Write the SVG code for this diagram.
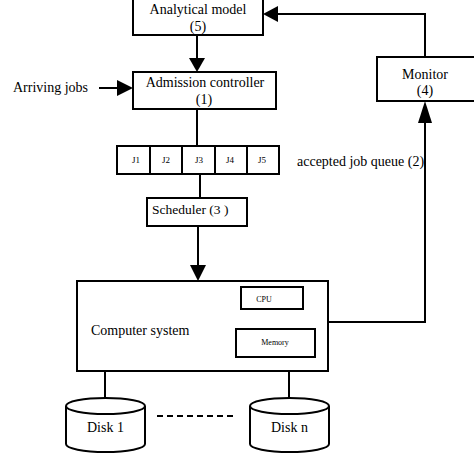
<svg xmlns="http://www.w3.org/2000/svg" width="474" height="453" viewBox="0 0 474 453">
<style>
.box{fill:#fff;stroke:#000;stroke-width:2}
.ln{fill:none;stroke:#000;stroke-width:2}
text{font-family:'Liberation Serif','Times New Roman','DejaVu Serif',serif;fill:#000}
.t{font-size:14px}
.s{font-size:9px}
.c{text-anchor:middle}
</style>
<rect width="474" height="453" fill="#fff"/>
<g id="connectors">
<path class="ln" d="M197,35 V58"/>
<path d="M189,58 L205,58 L197,72 Z"/>
<path class="ln" d="M99,88 H118"/>
<path d="M117,80 L117,96 L133,88 Z"/>
<path class="ln" d="M425,57 V14 H278"/>
<path d="M278,6 L278,22 L263,14 Z"/>
<path class="ln" d="M197,109 V146"/>
<path class="ln" d="M200,174 V198"/>
<path class="ln" d="M198,226 V266"/>
<path d="M190,265 L206,265 L198,281 Z"/>
<path class="ln" d="M328,322 H425 V122"/>
<path d="M418,123 L432,123 L425,101 Z"/>
<path class="ln" d="M105,371 V398"/>
<path class="ln" d="M289,371 V398"/>
<path class="ln" d="M157,416 H236" stroke-dasharray="6,4"/>
</g>
<g id="analytical-model">
<rect class="box" x="133" y="-2" width="130" height="37"/>
<text class="t c" x="198" y="14">Analytical model</text>
<text class="t c" x="198" y="31">(5)</text>
</g>
<g id="arriving-jobs">
<text class="t" x="13" y="92">Arriving jobs</text>
</g>
<g id="admission-controller">
<rect class="box" x="133" y="72" width="143" height="37"/>
<text class="t c" x="205" y="87">Admission controller</text>
<text class="t c" x="204" y="104">(1)</text>
</g>
<g id="monitor">
<rect class="box" x="377" y="57" width="100" height="44"/>
<text class="t c" x="425" y="79">Monitor</text>
<text class="t c" x="425" y="95">(4)</text>
</g>
<g id="queue">
<rect class="box" x="117" y="146" width="162" height="28"/>
<path class="ln" d="M150,146 V174 M182,146 V174 M215,146 V174 M247,146 V174"/>
<text class="s c" x="136" y="163">J1</text>
<text class="s c" x="166" y="163">J2</text>
<text class="s c" x="199" y="163">J3</text>
<text class="s c" x="230" y="163">J4</text>
<text class="s c" x="262" y="163">J5</text>
<text x="297" y="166" font-size="14">accepted job queue (2)</text>
</g>
<g id="scheduler">
<rect class="box" x="147" y="198" width="100" height="28"/>
<text x="152" y="214" font-size="13.5">Scheduler (3 )</text>
</g>
<g id="computer-system">
<rect class="box" x="77" y="281" width="251" height="90"/>
<text class="t" x="91" y="335">Computer system</text>
<rect class="box" x="241" y="287" width="62" height="22"/>
<text class="c" x="264" y="302" font-size="8">CPU</text>
<rect class="box" x="236" y="329" width="79" height="28"/>
<text class="c" x="275" y="345" font-size="8">Memory</text>
</g>
<g id="disk-1">
<path class="box" d="M66,406 V444 A39.5,8 0 0 0 145,444 V406"/>
<ellipse class="box" cx="105.5" cy="406" rx="39.5" ry="8"/>
<text x="87" y="432" font-size="14">Disk 1</text>
</g>
<g id="disk-n">
<path class="box" d="M250,406 V444 A39.5,8 0 0 0 329,444 V406"/>
<ellipse class="box" cx="289.5" cy="406" rx="39.5" ry="8"/>
<text x="271" y="432" font-size="14">Disk n</text>
</g>
</svg>
